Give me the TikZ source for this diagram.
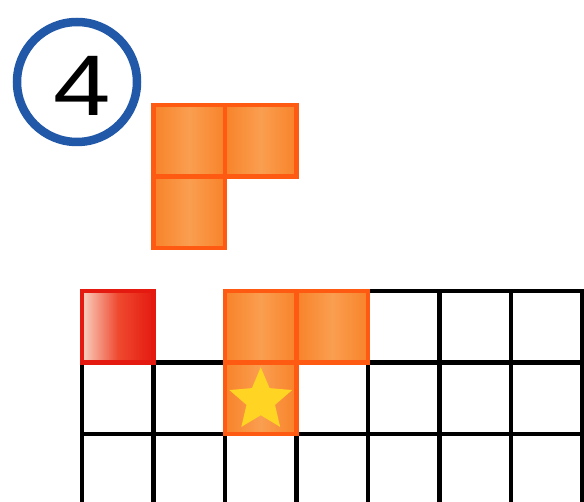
\documentclass[tikz,border=0pt]{standalone}
\usepackage{fontspec}
\setmainfont{Liberation Sans}
\usetikzlibrary{shapes.geometric, positioning}
\definecolor{ringblue}{HTML}{2158A8}
\definecolor{pieceedge}{HTML}{FF5A12}
\definecolor{piecedark}{HTML}{F8832A}
\definecolor{piecelight}{HTML}{FA9E50}
\definecolor{redcell}{HTML}{E41A10}
\definecolor{redmid}{HTML}{EF4A30}
\definecolor{redlight}{HTML}{F9D2C2}
\definecolor{staryellow}{HTML}{FFD423}

\begin{document}
\begin{tikzpicture}[x=1pt, y=-1pt,
  cell/.style={
    rectangle, draw=black, line width=4.4pt, minimum size=71.5pt,
    inner sep=0pt, outer sep=0pt, anchor=north west,
  },
  piece/.style={
    cell, draw=pieceedge, left color=piecedark, right color=piecedark,
    middle color=piecelight,
  },
  redbox/.style={
    cell, draw=redcell, left color=redlight, right color=redcell,
    middle color=redmid,
  },
]
  \useasboundingbox[fill=white] (0,0) rectangle (584,502);
  \clip (0,0) rectangle (584,502);

  % number in a ring
  \node[circle, draw=ringblue, line width=8.5pt, minimum size=120pt] (ring) at (77,82) {};
  \node[font=\fontsize{86}{86}\selectfont, xscale=1.2, transform shape] (num) at (82,86) {4};

  % the piece to place
  \node[piece] (l1) at (153.5,105) {};
  \node[piece, right=0pt of l1] (l2) {};
  \node[piece, below=0pt of l1] (l3) {};

  % board
  \foreach \c in {4,5,6}
    \node[cell] (g0\c) at ({82+71.5*\c},291) {};
  \foreach \r in {1,2}
    \foreach \c in {0,...,6}
      \node[cell] (g\r\c) at ({82+71.5*\c},{291+71.5*\r}) {};

  % filled squares
  \node[redbox] (r00) at (82,291) {};
  \node[piece] (p02) at (225,291) {};
  \node[piece, right=0pt of p02] (p03) {};
  \node[piece, below=0pt of p02] (p12) {};
  \node[star, star points=5, star point ratio=2.2, fill=staryellow,
    minimum size=66pt, inner sep=0pt] (mark) at ([yshift=-2pt]p12.center) {};
\end{tikzpicture}
\end{document}
